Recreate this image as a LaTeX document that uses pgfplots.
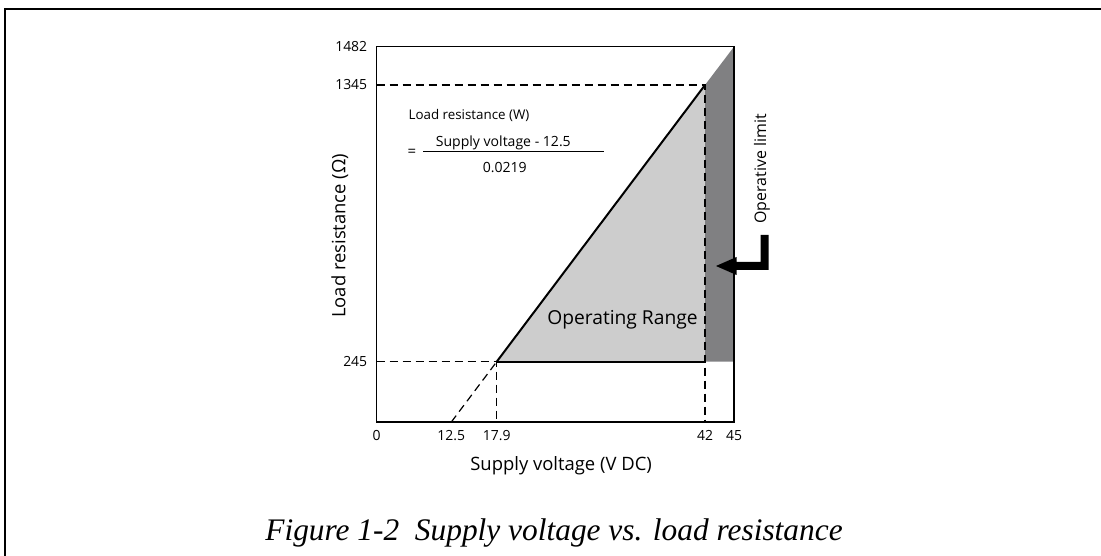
\documentclass[border=0pt]{standalone}
\usepackage{fontspec}
\setmainfont{Open Sans}
\newfontfamily\capfont{Liberation Serif}
\usepackage{pgfplots}
\pgfplotsset{compat=1.18}
\definecolor{lightfill}{RGB}{205,205,205}
\definecolor{darkfill}{RGB}{128,128,130}
\begin{document}
\begin{tikzpicture}[x=1bp,y=1bp]
\useasboundingbox (0,0) rectangle (1101,-556);
\draw[line width=2.2bp] (5,-556) -- (5,-9) -- (1101,-9);
\begin{axis}[
  at={(376.7bp,-422bp)}, anchor=south west,
  scale only axis, width=357.3bp, height=375.3bp,
  xmin=0, xmax=45, ymin=0, ymax=1482,
  x coord trafo/.code={\pgfmathparse{ifthenelse(#1<12.5, #1/12.5*74.6, ifthenelse(#1<17.9, 74.6+(#1-12.5)/5.4*45.4, ifthenelse(#1<42, 120.0+(#1-17.9)/24.1*208.3, 328.3+(#1-42)/3*29)))}},
  y coord trafo/.code={\pgfmathparse{ifthenelse(#1<245, #1/245*60.3, ifthenelse(#1<1345, 60.3+(#1-245)/1100*276.7, 337+(#1-1345)/137*38.3))}},
  xtick={0,12.5,17.9,42,45}, xticklabels={0,12.5,17.9,42,45},
  ytick={245,1345,1482}, yticklabels={245,1345,1482},
  major tick length=0pt, minor tick num=0,
  axis line style={line width=1.3bp},
  tick label style={font=\fontsize{14}{16}\selectfont},
  yticklabel style={xshift=-6bp},
  xticklabel style={yshift=-4.5bp},
  axis on top, clip=false,
  xlabel={Supply voltage (V DC)}, ylabel={Load resistance (Ω)},
  label style={font=\fontsize{18.5}{20}\selectfont},
  xlabel style={at={(axis description cs:0.516,-0.129)}, anchor=base},
  ylabel style={at={(axis description cs:-0.103,0.496)}, anchor=center},
]
\addplot[draw=none, fill=lightfill] coordinates {(17.9,245) (42,1345) (42,245)};
\addplot[draw=none, fill=darkfill] coordinates {(42,245) (45,245) (45,1482) (42,1345)};
\addplot[black, line width=1.2bp, dash pattern=on 8bp off 5bp] coordinates {(0,1345) (42,1345) (42,0)};
\addplot[black, line width=1.2bp, dash pattern=on 8bp off 5bp] coordinates {(0,245) (17.9,245) (17.9,0)};
\addplot[black, line width=1.2bp, dash pattern=on 8bp off 5bp] coordinates {(12.5,0) (17.9,245)};
\addplot[black, line width=2bp] coordinates {(17.9,245) (42,1345)};
\addplot[black, line width=2bp] coordinates {(17.9,245) (42,245)};
\end{axis}
\node[font=\fontsize{13.4}{15}\selectfont, anchor=base] at (469,-119.3) {Load resistance (W)};
\node[font=\fontsize{15}{16}\selectfont] at (412,-153) {=};
\draw[line width=1bp] (423.3,-152) -- (604,-152);
\node[font=\fontsize{14.1}{16}\selectfont, anchor=base] at (503.3,-146.7) {Supply voltage - 12.5};
\node[font=\fontsize{14.1}{16}\selectfont, anchor=base] at (504.7,-172.3) {0.0219};
\node[font=\fontsize{19.3}{21}\selectfont, anchor=base] at (622.5,-325) {Operating Range};
\node[rotate=90, font=\fontsize{16}{18}\selectfont] at (762,-169) {Operative limit};
\fill (760.5,-235) -- (768.5,-235) -- (768.5,-270) -- (736.5,-270) -- (736.5,-275) -- (716,-266) -- (736.5,-257) -- (736.5,-262) -- (760.5,-262) -- cycle;
\node[font=\capfont\itshape\fontsize{31.5}{34}\selectfont, anchor=base] at (554,-540) {Figure 1-2\ \ Supply voltage vs. load resistance};
\end{tikzpicture}
\end{document}
